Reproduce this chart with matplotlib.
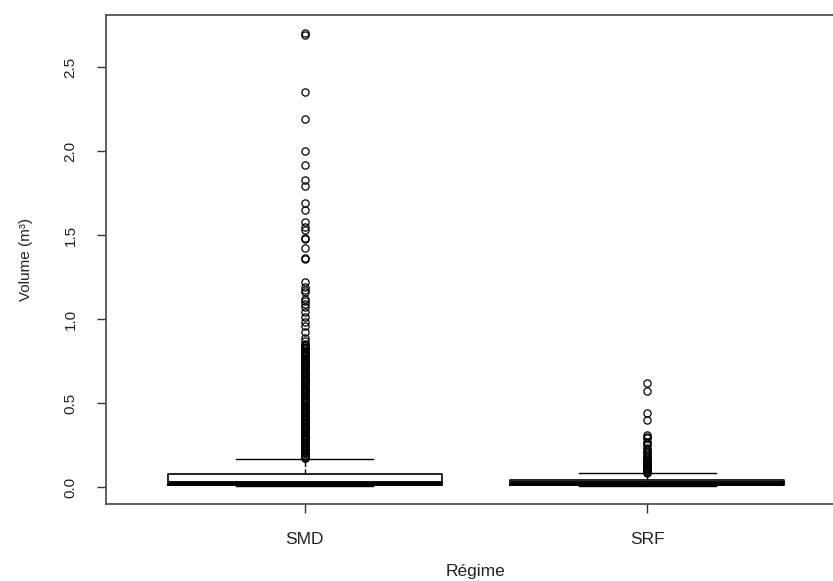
import matplotlib
matplotlib.use("Agg")
import matplotlib.pyplot as plt

plt.rcParams['font.family'] = ['Liberation Sans', 'DejaVu Sans']

# groups and box statistics
groups = ['SMD', 'SRF']
q1 = [0.015, 0.015]
med = [0.022, 0.022]
q3 = [0.077, 0.039]
whislo = [0.006, 0.006]
whishi = [0.165, 0.081]

smd_out = [2.70, 2.69, 2.35, 2.19, 2.00, 1.92, 1.83, 1.79, 1.69, 1.65,
           1.58, 1.55, 1.53, 1.485, 1.475, 1.42, 1.365, 1.355, 1.22, 1.19,
           1.17, 1.16, 1.12, 1.11, 1.09, 1.07, 1.04, 1.01, 0.98, 0.96,
           0.92, 0.89, 0.87, 0.85, 0.84, 0.83, 0.82, 0.81, 0.80, 0.79,
           0.78, 0.77, 0.76, 0.75, 0.74, 0.73, 0.72, 0.71, 0.70, 0.69,
           0.68, 0.67, 0.66, 0.65, 0.64, 0.63, 0.62, 0.61, 0.60, 0.59,
           0.58, 0.57, 0.56, 0.55, 0.54, 0.53, 0.52, 0.51, 0.50, 0.49,
           0.48, 0.47, 0.46, 0.45, 0.44, 0.43, 0.42, 0.41, 0.40, 0.39,
           0.38, 0.37, 0.36, 0.35, 0.34, 0.33, 0.32, 0.31, 0.30, 0.29,
           0.28, 0.27, 0.26, 0.25, 0.24, 0.23, 0.22, 0.21, 0.20, 0.19,
           0.18, 0.17,
           0.845, 0.825, 0.805, 0.785, 0.765, 0.745, 0.725, 0.705, 0.685,
           0.665, 0.645, 0.625, 0.605, 0.585, 0.565, 0.545, 0.525, 0.505,
           0.485, 0.465, 0.445, 0.425, 0.405, 0.385, 0.365, 0.345, 0.325,
           0.305, 0.285, 0.265, 0.245, 0.225, 0.205, 0.185, 0.175]
srf_out = [0.62, 0.57, 0.44, 0.40, 0.31, 0.30, 0.29, 0.27, 0.26, 0.25,
           0.23, 0.22, 0.21, 0.20, 0.19, 0.18, 0.17, 0.16, 0.155, 0.15,
           0.145, 0.14, 0.135, 0.13, 0.125, 0.12, 0.115, 0.11, 0.105, 0.10,
           0.095, 0.09, 0.085]
fliers = [smd_out, srf_out]

yticks = [0.0, 0.5, 1.0, 1.5, 2.0, 2.5]

stats = []
for i in range(len(groups)):
    stats.append(dict(label=groups[i], q1=q1[i], med=med[i], q3=q3[i],
                      whislo=whislo[i], whishi=whishi[i], fliers=fliers[i]))

fig = plt.figure(figsize=(8.33, 5.81), dpi=100)
ax = fig.add_axes([106/833, 77/581, 740/833, 489/581])

ax.bxp(stats, positions=[1, 2], widths=0.8, showfliers=True,
       boxprops=dict(color='black', linewidth=1.2),
       medianprops=dict(color='black', linewidth=3.5),
       whiskerprops=dict(color='black', linewidth=1, linestyle='--'),
       capprops=dict(color='black', linewidth=1),
       capwidths=0.4,
       flierprops=dict(marker='o', markerfacecolor='none', markeredgecolor='black',
                       markersize=5.2, markeredgewidth=0.9))

ax.set_xlim(0.42, 2.58)
ax.set_ylim(-0.101, 2.81)
ax.set_yticks(yticks)
ax.set_yticklabels(['%.1f' % t for t in yticks], rotation=90, va='center', fontsize=11)
ax.set_xticks([1, 2])
ax.set_xticklabels(groups, fontsize=12.5)
ax.tick_params(axis='y', length=6.5, width=1, pad=14, colors='#333333')
ax.tick_params(axis='x', length=6.5, width=1, pad=14, colors='#333333')
for t in ax.get_xticklabels() + ax.get_yticklabels():
    t.set_color('#222222')
for s in ax.spines.values():
    s.set_color('#444444')
    s.set_linewidth(1.2)
ax.spines['right'].set_visible(False)

ax.set_xlabel('Régime', fontsize=12.5, labelpad=12, color='#222222')
ax.set_ylabel('Volume (m³)', fontsize=11, labelpad=22, color='#222222')

fig.savefig('out.png', dpi=100)
